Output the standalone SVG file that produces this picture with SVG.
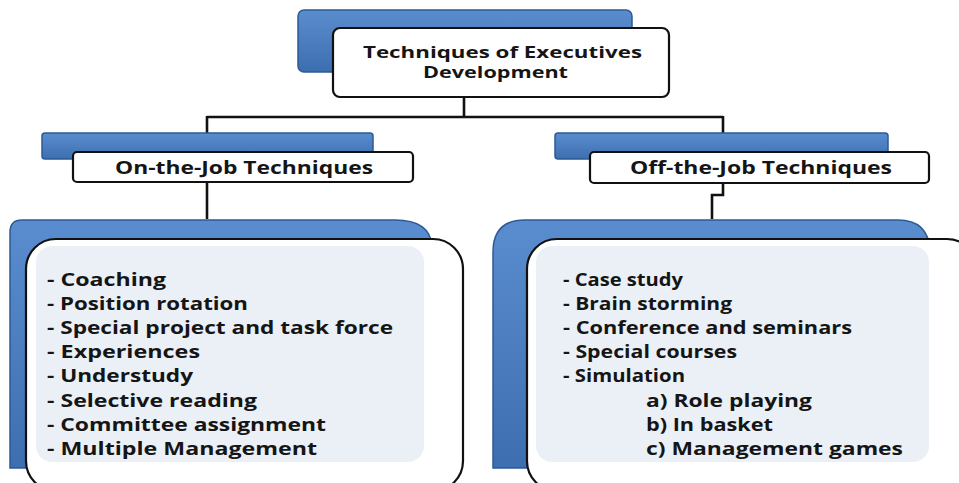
<svg xmlns="http://www.w3.org/2000/svg" width="959" height="483" viewBox="0 0 959 483">
  <style>
    .back { fill: url(#blueGrad); stroke: #2d5a92; stroke-width: 1.5; }
    .front { fill: #ffffff; stroke: #111111; stroke-width: 2.2; }
    .inner { fill: #ebf0f7; }
    .wire { fill: none; stroke: #111111; stroke-width: 2.6; }
    text { font-family: "Open Sans", "Liberation Sans", sans-serif; font-weight: 700; font-size: 17px; fill: #151515; }
    .title { font-size: 15.5px; }
  </style>
  <defs>
    <linearGradient id="blueGrad" x1="0" y1="0" x2="0" y2="1">
      <stop offset="0" stop-color="#5a8dcf"/>
      <stop offset="1" stop-color="#3d6eb0"/>
    </linearGradient>
  </defs>
  <rect width="959" height="483" fill="#ffffff"/>

  <!-- connectors -->
  <g id="connectors">
    <path class="wire" d="M464,97 V117 M207,117 H723 M207,116 V134 M723,116 V134"/>
    <path class="wire" d="M207,182 V219"/>
    <path class="wire" d="M723,183 V195 H712 V219"/>
  </g>

  <!-- root -->
  <g id="root">
    <rect class="back" x="298" y="10" width="334" height="62" rx="6"/>
    <rect class="front" x="333" y="28" width="336" height="69" rx="7"/>
    <text class="title" x="363" y="58" textLength="279" lengthAdjust="spacingAndGlyphs">Techniques of Executives</text>
    <text class="title" x="423" y="78" textLength="145" lengthAdjust="spacingAndGlyphs">Development</text>
  </g>

  <!-- on-the-job header -->
  <g id="on-the-job">
    <rect class="back" x="42" y="133" width="331" height="26" rx="3"/>
    <rect class="front" x="73" y="152" width="340" height="30" rx="4"/>
    <text x="115" y="174" textLength="258" lengthAdjust="spacingAndGlyphs">On-the-Job Techniques</text>
  </g>

  <!-- off-the-job header -->
  <g id="off-the-job">
    <rect class="back" x="555" y="133" width="333" height="26" rx="3"/>
    <rect class="front" x="590" y="152" width="339" height="31" rx="4"/>
    <text x="630" y="174" textLength="262" lengthAdjust="spacingAndGlyphs">Off-the-Job Techniques</text>
  </g>

  <!-- on-the-job list -->
  <g id="on-the-job-list">
    <path class="back" d="M10,232 Q10,220 22,220 H395 Q430,220 432,246 V468 H10 Z"/>
    <rect class="front" x="26" y="239" width="437" height="252" rx="30"/>
    <rect class="inner" x="36" y="246" width="388" height="216" rx="16"/>
    <text x="47" y="286" textLength="119" lengthAdjust="spacingAndGlyphs">- Coaching</text>
    <text x="47" y="310" textLength="201" lengthAdjust="spacingAndGlyphs">- Position rotation</text>
    <text x="47" y="334" textLength="346" lengthAdjust="spacingAndGlyphs">- Special project and task force</text>
    <text x="47" y="358" textLength="153" lengthAdjust="spacingAndGlyphs">- Experiences</text>
    <text x="47" y="382" textLength="146" lengthAdjust="spacingAndGlyphs">- Understudy</text>
    <text x="47" y="407" textLength="210" lengthAdjust="spacingAndGlyphs">- Selective reading</text>
    <text x="47" y="431" textLength="279" lengthAdjust="spacingAndGlyphs">- Committee assignment</text>
    <text x="47" y="455" textLength="270" lengthAdjust="spacingAndGlyphs">- Multiple Management</text>
  </g>

  <!-- off-the-job list -->
  <g id="off-the-job-list">
    <path class="back" d="M493,252 Q493,220 525,220 H898 Q928,220 930,250 V468 H493 Z"/>
    <rect class="front" x="527" y="239" width="450" height="252" rx="30"/>
    <rect class="inner" x="536" y="246" width="393" height="216" rx="16"/>
    <text x="563" y="286" textLength="120" lengthAdjust="spacingAndGlyphs">- Case study</text>
    <text x="563" y="310" textLength="169" lengthAdjust="spacingAndGlyphs">- Brain storming</text>
    <text x="563" y="334" textLength="289" lengthAdjust="spacingAndGlyphs">- Conference and seminars</text>
    <text x="563" y="358" textLength="174" lengthAdjust="spacingAndGlyphs">- Special courses</text>
    <text x="563" y="382" textLength="122" lengthAdjust="spacingAndGlyphs">- Simulation</text>
    <text x="646" y="407" textLength="166" lengthAdjust="spacingAndGlyphs">a) Role playing</text>
    <text x="646" y="431" textLength="127" lengthAdjust="spacingAndGlyphs">b) In basket</text>
    <text x="646" y="455" textLength="257" lengthAdjust="spacingAndGlyphs">c) Management games</text>
  </g>
</svg>
